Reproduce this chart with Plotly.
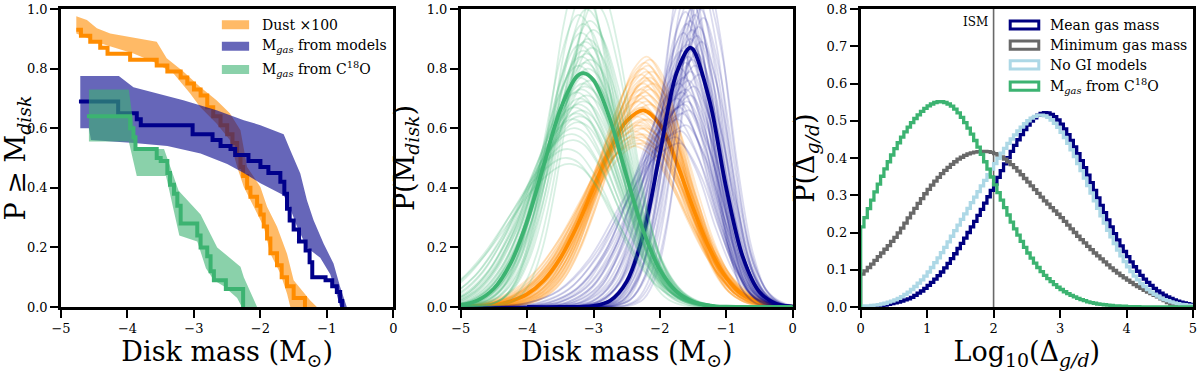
import plotly.graph_objects as go

FONT = "DejaVu Serif"

# ---------------- Panel 1: P >= M_disk ----------------
dust_step_x = [-4.77, -4.70, -4.56, -4.41, -4.30, -3.96, -3.56, -3.40, -3.20, -3.10, -3.00, -2.90, -2.80, -2.71,
               -2.60, -2.50, -2.42, -2.35, -2.30, -2.26, -2.20, -2.15, -2.05, -2.00, -1.95, -1.90, -1.85, -1.75,
               -1.68, -1.60, -1.50, -1.33]
dust_step_y = [0.93, 0.91, 0.89, 0.87, 0.85, 0.83, 0.81, 0.79, 0.77, 0.75, 0.73, 0.71, 0.67, 0.64,
               0.61, 0.58, 0.55, 0.51, 0.47, 0.44, 0.40, 0.37, 0.34, 0.31, 0.27, 0.23, 0.18, 0.14,
               0.10, 0.07, 0.03, 0.0]
dust_up_x = [-4.77, -4.61, -4.46, -4.26, -3.56, -3.41, -3.16, -2.91, -2.66, -2.46, -2.30, -2.20, -2.00, -1.90,
             -1.75, -1.60, -1.50, -1.25, -1.15]
dust_up_y = [0.976, 0.963, 0.935, 0.918, 0.89, 0.835, 0.79, 0.739, 0.694, 0.65, 0.593, 0.47, 0.403, 0.336,
             0.269, 0.179, 0.09, 0.022, 0.0]
dust_lo_x = [-4.77, -4.41, -3.91, -3.61, -3.31, -3.06, -2.91, -2.66, -2.46, -2.35, -2.25, -2.10, -1.95, -1.85,
             -1.70, -1.60, -1.55]
dust_lo_y = [0.918, 0.885, 0.851, 0.823, 0.784, 0.717, 0.672, 0.616, 0.56, 0.47, 0.403, 0.336, 0.269, 0.179,
             0.112, 0.045, 0.0]

model_step_x = [-4.73, -4.14, -3.86, -3.80, -3.02, -2.72, -2.60, -2.45, -2.38, -2.18, -2.00, -1.88, -1.70,
                -1.64, -1.60, -1.56, -1.50, -1.42, -1.32, -1.26, -1.22, -1.02, -0.92, -0.85, -0.80, -0.77]
model_step_y = [0.69, 0.65, 0.63, 0.61, 0.58, 0.56, 0.54, 0.53, 0.51, 0.49, 0.47, 0.45, 0.42,
                0.38, 0.33, 0.29, 0.26, 0.22, 0.19, 0.15, 0.10, 0.09, 0.07, 0.05, 0.02, 0.0]
model_up_x = [-4.71, -4.13, -3.91, -3.66, -3.16, -2.66, -2.25, -2.00, -1.65, -1.55, -1.40, -1.30, -1.20, -1.05,
              -0.90, -0.80, -0.70]
model_up_y = [0.775, 0.775, 0.737, 0.722, 0.694, 0.66, 0.627, 0.61, 0.58, 0.526, 0.448, 0.358, 0.291, 0.213,
              0.146, 0.067, 0.0]
model_lo_x = [-4.71, -4.58, -4.55, -3.90, -3.40, -2.90, -2.50, -2.25, -2.00, -1.65, -1.55, -1.45, -1.30, -1.10,
              -0.95, -0.85, -0.80]
model_lo_y = [0.60, 0.60, 0.56, 0.55, 0.54, 0.515, 0.48, 0.45, 0.415, 0.375, 0.33, 0.27, 0.20, 0.165,
              0.11, 0.04, 0.0]

c18o_step_x = [-4.61, -3.96, -3.91, -3.88, -3.56, -3.50, -3.40, -3.36, -3.30, -3.25, -3.20, -2.95, -2.90, -2.80,
               -2.75, -2.70, -2.52, -2.26]
c18o_step_y = [0.64, 0.60, 0.57, 0.53, 0.50, 0.49, 0.45, 0.41, 0.38, 0.34, 0.28, 0.24, 0.20, 0.17,
               0.12, 0.09, 0.06, 0.0]
c18o_up_x = [-4.58, -3.98, -3.86, -3.45, -3.23, -2.90, -2.65, -2.30, -2.25, -2.05]
c18o_up_y = [0.73, 0.73, 0.53, 0.53, 0.39, 0.31, 0.20, 0.135, 0.10, 0.0]
c18o_lo_x = [-4.58, -3.98, -3.86, -3.42, -3.36, -3.22, -2.95, -2.82, -2.70, -2.55, -2.35, -2.28]
c18o_lo_y = [0.555, 0.555, 0.44, 0.44, 0.38, 0.24, 0.22, 0.13, 0.09, 0.07, 0.03, 0.0]

legend1_labels = ["Dust \u00d7100", "M<sub><i>gas</i></sub> from models", "M<sub><i>gas</i></sub> from C<sup>18</sup>O"]

# ---------------- Panel 2: P(M_disk) ----------------
green_x = [-6.0, -5.5, -5.0, -4.75, -4.5, -4.25, -4.0, -3.75, -3.5, -3.25, -3.15, -3.0, -2.75, -2.5, -2.25,
           -2.0, -1.75, -1.5, -1.25, -1.0, -0.5, 0.0]
green_y = [0.0, 0.001, 0.007, 0.022, 0.062, 0.146, 0.288, 0.476, 0.662, 0.774, 0.785, 0.761, 0.629, 0.437,
           0.255, 0.125, 0.052, 0.018, 0.005, 0.001, 0.0, 0.0]
orange_x = [-6.0, -5.5, -5.0, -4.5, -4.25, -4.0, -3.75, -3.5, -3.25, -3.0, -2.75, -2.5, -2.25, -2.0, -1.75,
            -1.5, -1.25, -1.0, -0.75, -0.5, -0.25, 0.0, 0.5]
orange_y = [0.0, 0.0, 0.001, 0.007, 0.019, 0.043, 0.089, 0.164, 0.271, 0.40, 0.529, 0.624, 0.66, 0.612, 0.486,
            0.332, 0.195, 0.098, 0.042, 0.016, 0.005, 0.001, 0.0]
blue_x = [-4.0, -3.5, -3.0, -2.75, -2.5, -2.25, -2.0, -1.75, -1.55, -1.5, -1.25, -1.0, -0.75, -0.5, -0.25,
          0.0, 0.5]
blue_y = [0.0, 0.0, 0.004, 0.021, 0.085, 0.245, 0.516, 0.785, 0.87, 0.864, 0.69, 0.398, 0.167, 0.05, 0.011,
          0.002, 0.0]

# thin curves: peak height, peak position, left / right width relative to the thick curve
green_thin_peak = [1.12, 1.08, 1.05, 1.02, 1.00, 0.98, 0.96, 0.95, 0.93, 0.92, 0.90, 0.89, 0.88, 0.87, 0.86,
                   0.85, 0.84, 0.83, 0.82, 0.81, 0.80, 0.79, 0.78, 0.77, 0.76, 0.75, 0.74, 0.73, 0.72, 0.71,
                   0.70, 0.69, 0.68, 0.67, 0.66, 0.65, 0.64, 0.63, 0.62, 0.60, 0.58, 0.56, 0.53, 0.50, 0.48]
green_thin_center = [-3.20, -2.95, -3.15, -2.98, -3.10, -3.22, -3.05, -3.15, -3.00, -3.18, -3.08, -3.12, -3.20,
                     -3.02, -3.15, -3.10, -3.18, -3.05, -3.12, -3.22, -3.08, -3.15, -3.10, -3.20, -3.05, -3.15,
                     -3.12, -3.18, -3.25, -3.10, -3.20, -3.15, -3.22, -3.28, -3.18, -3.25, -3.20, -3.30, -3.22,
                     -3.28, -3.32, -3.30, -3.38, -3.40, -3.35]
green_thin_wl = [0.72, 0.74, 0.76, 0.78, 0.80, 0.82, 0.83, 0.84, 0.86, 0.87, 0.88, 0.90, 0.91, 0.92, 0.93,
                 0.94, 0.96, 0.97, 0.98, 0.99, 1.00, 1.01, 1.03, 1.04, 1.05, 1.06, 1.08, 1.09, 1.10, 1.12,
                 1.13, 1.14, 1.16, 1.17, 1.19, 1.20, 1.22, 1.24, 1.26, 1.29, 1.32, 1.35, 1.40, 1.45, 1.50]
green_thin_wr = [0.80, 0.82, 0.84, 0.86, 0.87, 0.88, 0.89, 0.90, 0.91, 0.92, 0.93, 0.93, 0.94, 0.95, 0.95,
                 0.96, 0.96, 0.97, 0.97, 0.98, 0.98, 0.99, 0.99, 1.00, 1.00, 1.01, 1.01, 1.02, 1.02, 1.03,
                 1.03, 1.04, 1.04, 1.05, 1.05, 1.06, 1.06, 1.07, 1.08, 1.09, 1.10, 1.11, 1.12, 1.14, 1.16]

orange_thin_peak = [0.84, 0.83, 0.82, 0.81, 0.80, 0.79, 0.79, 0.78, 0.77, 0.77, 0.76, 0.75, 0.75, 0.74, 0.73,
                    0.73, 0.72, 0.71, 0.71, 0.70, 0.69, 0.69, 0.68, 0.67, 0.67, 0.66, 0.65, 0.65, 0.64, 0.63,
                    0.63, 0.62, 0.61, 0.61, 0.60, 0.60, 0.59, 0.58, 0.58, 0.57, 0.57, 0.56, 0.55, 0.55, 0.54]
orange_thin_center = [-2.20, -2.15, -2.22, -2.18, -2.25, -2.12, -2.20, -2.28, -2.15, -2.22, -2.18, -2.25, -2.10,
                      -2.20, -2.28, -2.15, -2.22, -2.30, -2.18, -2.25, -2.20, -2.32, -2.15, -2.25, -2.28, -2.20,
                      -2.30, -2.22, -2.35, -2.25, -2.18, -2.30, -2.28, -2.35, -2.22, -2.30, -2.38, -2.25, -2.32,
                      -2.28, -2.40, -2.30, -2.35, -2.25, -2.38]
orange_thin_width = [0.82, 0.83, 0.84, 0.85, 0.86, 0.86, 0.87, 0.88, 0.89, 0.89, 0.90, 0.91, 0.91, 0.92, 0.93,
                     0.93, 0.94, 0.95, 0.95, 0.96, 0.97, 0.97, 0.98, 0.99, 0.99, 1.00, 1.01, 1.01, 1.02, 1.03,
                     1.03, 1.04, 1.05, 1.05, 1.06, 1.07, 1.07, 1.08, 1.09, 1.09, 1.10, 1.11, 1.12, 1.13, 1.15]

blue_thin_peak = [1.15, 1.12, 1.10, 1.08, 1.06, 1.05, 1.04, 1.02, 1.01, 1.00, 0.99, 0.98, 0.97, 0.96, 0.95,
                  0.94, 0.93, 0.92, 0.91, 0.90, 0.89, 0.88, 0.87, 0.86, 0.85, 0.84, 0.83, 0.82, 0.81, 0.80,
                  0.79, 0.78, 0.77, 0.76, 0.75, 0.74, 0.73, 0.72, 0.71, 0.70, 0.69, 0.68, 0.67, 0.66, 0.65,
                  0.63, 0.61, 0.59, 0.57, 0.55]
blue_thin_center = [-1.62, -1.32, -1.55, -1.38, -1.65, -1.45, -1.30, -1.58, -1.50, -1.40, -1.62, -1.48, -1.35,
                    -1.55, -1.60, -1.42, -1.52, -1.65, -1.45, -1.55, -1.38, -1.60, -1.50, -1.68, -1.45, -1.58,
                    -1.52, -1.62, -1.48, -1.70, -1.55, -1.42, -1.65, -1.58, -1.72, -1.50, -1.62, -1.68, -1.55,
                    -1.75, -1.60, -1.65, -1.72, -1.58, -1.68, -1.75, -1.62, -1.70, -1.78, -1.72]
blue_thin_wl = [0.75, 0.77, 0.78, 0.80, 0.81, 0.82, 0.84, 0.85, 0.86, 0.88, 0.89, 0.90, 0.92, 0.93, 0.95,
                0.96, 0.98, 0.99, 1.01, 1.02, 1.04, 1.06, 1.07, 1.09, 1.11, 1.13, 1.15, 1.17, 1.19, 1.21,
                1.23, 1.25, 1.28, 1.30, 1.33, 1.35, 1.38, 1.41, 1.44, 1.47, 1.50, 1.54, 1.57, 1.61, 1.65,
                1.69, 1.73, 1.78, 1.84, 1.90]
blue_thin_wr = [0.80, 0.81, 0.82, 0.83, 0.84, 0.85, 0.85, 0.86, 0.87, 0.88, 0.88, 0.89, 0.90, 0.90, 0.91,
                0.92, 0.92, 0.93, 0.94, 0.94, 0.95, 0.96, 0.96, 0.97, 0.98, 0.98, 0.99, 1.00, 1.00, 1.01,
                1.02, 1.02, 1.03, 1.04, 1.04, 1.05, 1.06, 1.06, 1.07, 1.08, 1.08, 1.09, 1.10, 1.10, 1.11,
                1.12, 1.12, 1.13, 1.14, 1.15]

# ---------------- Panel 3: P(Delta_g/d) histograms ----------------
hist_start = 0.0
hist_bin = 0.05
mean_gas = [0.000, 0.001, 0.001, 0.002, 0.002, 0.003, 0.004, 0.005, 0.007, 0.009,
            0.011, 0.013, 0.016, 0.019, 0.022, 0.026, 0.031, 0.037, 0.043, 0.050,
            0.058, 0.066, 0.075, 0.084, 0.094, 0.105, 0.117, 0.130, 0.143, 0.157,
            0.171, 0.185, 0.200, 0.215, 0.230, 0.246, 0.262, 0.279, 0.296, 0.313,
            0.330, 0.348, 0.366, 0.384, 0.401, 0.418, 0.434, 0.449, 0.463, 0.476,
            0.488, 0.499, 0.508, 0.515, 0.520, 0.522, 0.521, 0.517, 0.511, 0.502,
            0.491, 0.478, 0.463, 0.447, 0.430, 0.412, 0.393, 0.374, 0.354, 0.334,
            0.313, 0.293, 0.273, 0.253, 0.234, 0.215, 0.197, 0.180, 0.164, 0.149,
            0.135, 0.121, 0.108, 0.096, 0.085, 0.075, 0.066, 0.058, 0.050, 0.043,
            0.037, 0.032, 0.027, 0.023, 0.019, 0.016, 0.013, 0.011, 0.009, 0.007]
min_gas = [0.088, 0.097, 0.106, 0.115, 0.125, 0.135, 0.145, 0.155, 0.165, 0.176,
           0.187, 0.199, 0.212, 0.225, 0.239, 0.252, 0.265, 0.278, 0.291, 0.304,
           0.316, 0.327, 0.338, 0.348, 0.358, 0.367, 0.375, 0.383, 0.390, 0.397,
           0.402, 0.407, 0.411, 0.414, 0.416, 0.417, 0.418, 0.418, 0.417, 0.415,
           0.412, 0.408, 0.403, 0.397, 0.390, 0.382, 0.374, 0.365, 0.355, 0.345,
           0.335, 0.325, 0.315, 0.305, 0.295, 0.285, 0.276, 0.267, 0.258, 0.249,
           0.240, 0.230, 0.220, 0.210, 0.200, 0.190, 0.181, 0.172, 0.163, 0.154,
           0.145, 0.137, 0.129, 0.121, 0.113, 0.105, 0.098, 0.091, 0.084, 0.078,
           0.072, 0.066, 0.060, 0.055, 0.050, 0.045, 0.040, 0.036, 0.031, 0.027,
           0.022, 0.017, 0.012, 0.006, 0.002, 0.001, 0.000, 0.000, 0.000, 0.000]
no_gi = [0.002, 0.003, 0.003, 0.004, 0.005, 0.006, 0.008, 0.010, 0.013, 0.016,
         0.019, 0.023, 0.028, 0.034, 0.040, 0.047, 0.055, 0.064, 0.073, 0.083,
         0.094, 0.106, 0.119, 0.132, 0.146, 0.160, 0.175, 0.190, 0.205, 0.220,
         0.235, 0.250, 0.265, 0.280, 0.295, 0.310, 0.325, 0.340, 0.355, 0.370,
         0.385, 0.399, 0.413, 0.426, 0.439, 0.451, 0.462, 0.473, 0.483, 0.492,
         0.500, 0.507, 0.512, 0.515, 0.515, 0.513, 0.509, 0.502, 0.493, 0.482,
         0.469, 0.455, 0.439, 0.422, 0.404, 0.385, 0.366, 0.346, 0.326, 0.306,
         0.285, 0.265, 0.245, 0.225, 0.206, 0.188, 0.170, 0.153, 0.137, 0.122,
         0.108, 0.095, 0.083, 0.073, 0.063, 0.055, 0.047, 0.040, 0.034, 0.029,
         0.024, 0.020, 0.017, 0.014, 0.011, 0.009, 0.007, 0.006, 0.005, 0.004]
c18o_gas = [0.215, 0.240, 0.264, 0.287, 0.309, 0.330, 0.351, 0.371, 0.390, 0.408,
            0.425, 0.441, 0.456, 0.470, 0.483, 0.495, 0.506, 0.516, 0.525, 0.533,
            0.540, 0.545, 0.549, 0.551, 0.551, 0.549, 0.545, 0.539, 0.531, 0.521,
            0.509, 0.495, 0.480, 0.464, 0.447, 0.429, 0.410, 0.390, 0.370, 0.349,
            0.328, 0.307, 0.287, 0.267, 0.247, 0.228, 0.210, 0.193, 0.176, 0.160,
            0.145, 0.131, 0.118, 0.106, 0.095, 0.085, 0.076, 0.068, 0.060, 0.053,
            0.047, 0.041, 0.036, 0.031, 0.027, 0.023, 0.020, 0.017, 0.014, 0.012,
            0.010, 0.008, 0.007, 0.006, 0.005, 0.004, 0.003, 0.003, 0.002, 0.002,
            0.001, 0.001, 0.001, 0.001, 0.000, 0.000, 0.000, 0.000, 0.000, 0.000,
            0.000, 0.000, 0.000, 0.000, 0.000, 0.000, 0.000, 0.000, 0.000, 0.000]
legend3_labels = ["Mean gas mass", "Minimum gas mass", "No GI models", "M<sub><i>gas</i></sub> from C<sup>18</sup>O"]
ism_value = 2.0

# ---------------- colours ----------------
C_ORANGE = "#FF8C00"
C_DBLUE = "#00008B"
C_GREEN = "#3CB371"
BAND_ORANGE = "rgba(255,140,0,0.6)"
BAND_BLUE = "rgba(0,0,139,0.6)"
BAND_GREEN = "rgba(60,179,113,0.6)"

fig = go.Figure()


def add_band(xu, yu, xl, yl, color):
    fig.add_trace(go.Scatter(x=xu + xl[::-1], y=yu + yl[::-1], fill="toself", fillcolor=color,
                             mode="lines", line=dict(width=0), hoverinfo="skip", showlegend=False,
                             xaxis="x", yaxis="y"))


def add_step(xs, ys, color):
    fig.add_trace(go.Scatter(x=xs, y=ys, mode="lines", line=dict(color=color, width=4, shape="hv"),
                             showlegend=False, xaxis="x", yaxis="y"))


add_band(dust_up_x, dust_up_y, dust_lo_x, dust_lo_y, BAND_ORANGE)
add_step(dust_step_x, dust_step_y, C_ORANGE)
add_band(model_up_x, model_up_y, model_lo_x, model_lo_y, BAND_BLUE)
add_step(model_step_x, model_step_y, C_DBLUE)
add_band(c18o_up_x, c18o_up_y, c18o_lo_x, c18o_lo_y, BAND_GREEN)
add_step(c18o_step_x, c18o_step_y, C_GREEN)


def add_family(bx, by, peaks, centers, wl, wr, rgba):
    p0 = max(by)
    c0 = bx[by.index(p0)]
    for p, c, a, b in zip(peaks, centers, wl, wr):
        xs = [c + (x - c0) * (a if x < c0 else b) for x in bx]
        ys = [y * p / p0 for y in by]
        fig.add_trace(go.Scatter(x=xs, y=ys, mode="lines",
                                 line=dict(color=rgba, width=1.8, shape="spline", smoothing=1.0),
                                 hoverinfo="skip", showlegend=False, xaxis="x2", yaxis="y2"))


def add_thick(bx, by, color):
    fig.add_trace(go.Scatter(x=bx, y=by, mode="lines",
                             line=dict(color=color, width=3.8, shape="spline", smoothing=1.0),
                             showlegend=False, xaxis="x2", yaxis="y2"))


add_family(orange_x, orange_y, orange_thin_peak, orange_thin_center, orange_thin_width, orange_thin_width,
           "rgba(255,140,0,0.2)")
add_thick(orange_x, orange_y, C_ORANGE)
add_family(blue_x, blue_y, blue_thin_peak, blue_thin_center, blue_thin_wl, blue_thin_wr, "rgba(0,0,139,0.14)")
add_thick(blue_x, blue_y, C_DBLUE)
add_family(green_x, green_y, green_thin_peak, green_thin_center, green_thin_wl, green_thin_wr,
           "rgba(60,179,113,0.2)")
add_thick(green_x, green_y, C_GREEN)

hist_series = [(mean_gas, "#000080"), (min_gas, "#696969"), (no_gi, "#ADD8E6"), (c18o_gas, "#3CB371")]
for vals, col in hist_series:
    edges = [hist_start + i * hist_bin for i in range(len(vals) + 1)]
    xs = [edges[0]] + edges + [edges[-1]]
    ys = [0.0] + list(vals) + [vals[-1], 0.0]
    fig.add_trace(go.Scatter(x=xs, y=ys, mode="lines", line=dict(color=col, width=3.3, shape="hv"),
                             showlegend=False, xaxis="x3", yaxis="y3"))

# ---------------- layout ----------------
tickfont = dict(family=FONT, size=13, color="black")
titlefont = dict(family=FONT, size=27, color="black")
common = dict(showline=True, linewidth=2.5, linecolor="black", mirror=True, ticks="outside", ticklen=8,
              tickwidth=2, tickcolor="black", showgrid=False, zeroline=False, tickfont=tickfont,
              ticklabeloverflow="allow", automargin=False)

neg_vals = [-5, -4, -3, -2, -1, 0]
neg_text = ["\u22125", "\u22124", "\u22123", "\u22122", "\u22121", "0"]
pos_vals = [0, 1, 2, 3, 4, 5]
pos_text = ["0", "1", "2", "3", "4", "5"]

fig.update_layout(
    width=1200, height=373,
    margin=dict(l=61, r=7, t=9, b=66, autoexpand=False),
    paper_bgcolor="white", plot_bgcolor="white",
    showlegend=False,
    xaxis=dict(domain=[0, 0.2936], range=[-5, 0], tickvals=neg_vals, ticktext=neg_text, anchor="y",
               title=dict(text="Disk mass (M<sub>\u2299</sub>)", font=titlefont, standoff=2), **common),
    yaxis=dict(domain=[0, 1], range=[0, 1], dtick=0.2, tickformat=".1f", anchor="x",
               title=dict(text="P \u2265 M<sub><i>disk</i></sub>", font=titlefont, standoff=5), **common),
    xaxis2=dict(domain=[0.3531, 0.6464], range=[-5, 0], tickvals=neg_vals, ticktext=neg_text, anchor="y2",
                title=dict(text="Disk mass (M<sub>\u2299</sub>)", font=titlefont, standoff=2), **common),
    yaxis2=dict(domain=[0, 1], range=[0, 1], dtick=0.2, tickformat=".1f", anchor="x2",
                title=dict(text="P(M<sub><i>disk</i></sub>)", font=titlefont, standoff=5), **common),
    xaxis3=dict(domain=[0.7064, 1.0], range=[0, 5], tickvals=pos_vals, ticktext=pos_text, anchor="y3",
                title=dict(text="Log<sub>10</sub>(\u0394<sub><i>g/d</i></sub>)", font=titlefont, standoff=2),
                **common),
    yaxis3=dict(domain=[0, 1], range=[0, 0.8], dtick=0.1, tickformat=".1f", anchor="x3",
                title=dict(text="P(\u0394<sub><i>g/d</i></sub>)", font=titlefont, standoff=5), **common),
)

shapes = []
annotations = []

# vertical ISM line
shapes.append(dict(type="line", xref="x3", yref="y3", x0=ism_value, x1=ism_value, y0=0, y1=0.8,
                   line=dict(color="#696969", width=1.6), layer="below"))
annotations.append(dict(xref="x3", yref="y3", x=ism_value - 0.05, y=0.766, text="ISM", showarrow=False,
                        xanchor="right", yanchor="middle", font=dict(family=FONT, size=12, color="black")))

# legend, panel 1
leg1_y = [0.947, 0.875, 0.797]
leg1_cols = [BAND_ORANGE, BAND_BLUE, BAND_GREEN]
for yy, col, lab in zip(leg1_y, leg1_cols, legend1_labels):
    shapes.append(dict(type="rect", xref="x", yref="y", x0=-2.58, x1=-2.17, y0=yy - 0.015, y1=yy + 0.015,
                       fillcolor=col, line=dict(width=0), layer="above"))
    annotations.append(dict(xref="x", yref="y", x=-2.0, y=yy, text=lab, showarrow=False, xanchor="left",
                            yanchor="middle", font=dict(family=FONT, size=14, color="black")))

# legend, panel 3
leg3_y = [0.757, 0.703, 0.650, 0.593]
for yy, (vals, col), lab in zip(leg3_y, hist_series, legend3_labels):
    shapes.append(dict(type="rect", xref="x3", yref="y3", x0=2.25, x1=2.68, y0=yy - 0.011, y1=yy + 0.011,
                       fillcolor="white", line=dict(color=col, width=3), layer="above"))
    annotations.append(dict(xref="x3", yref="y3", x=2.82, y=yy, text=lab, showarrow=False, xanchor="left",
                            yanchor="middle", font=dict(family=FONT, size=14, color="black")))

fig.update_layout(shapes=shapes, annotations=annotations)

fig.write_html("out.html", config={"displayModeBar": False},
               post_script="document.body.style.margin='0px';document.body.style.padding='0px';")
